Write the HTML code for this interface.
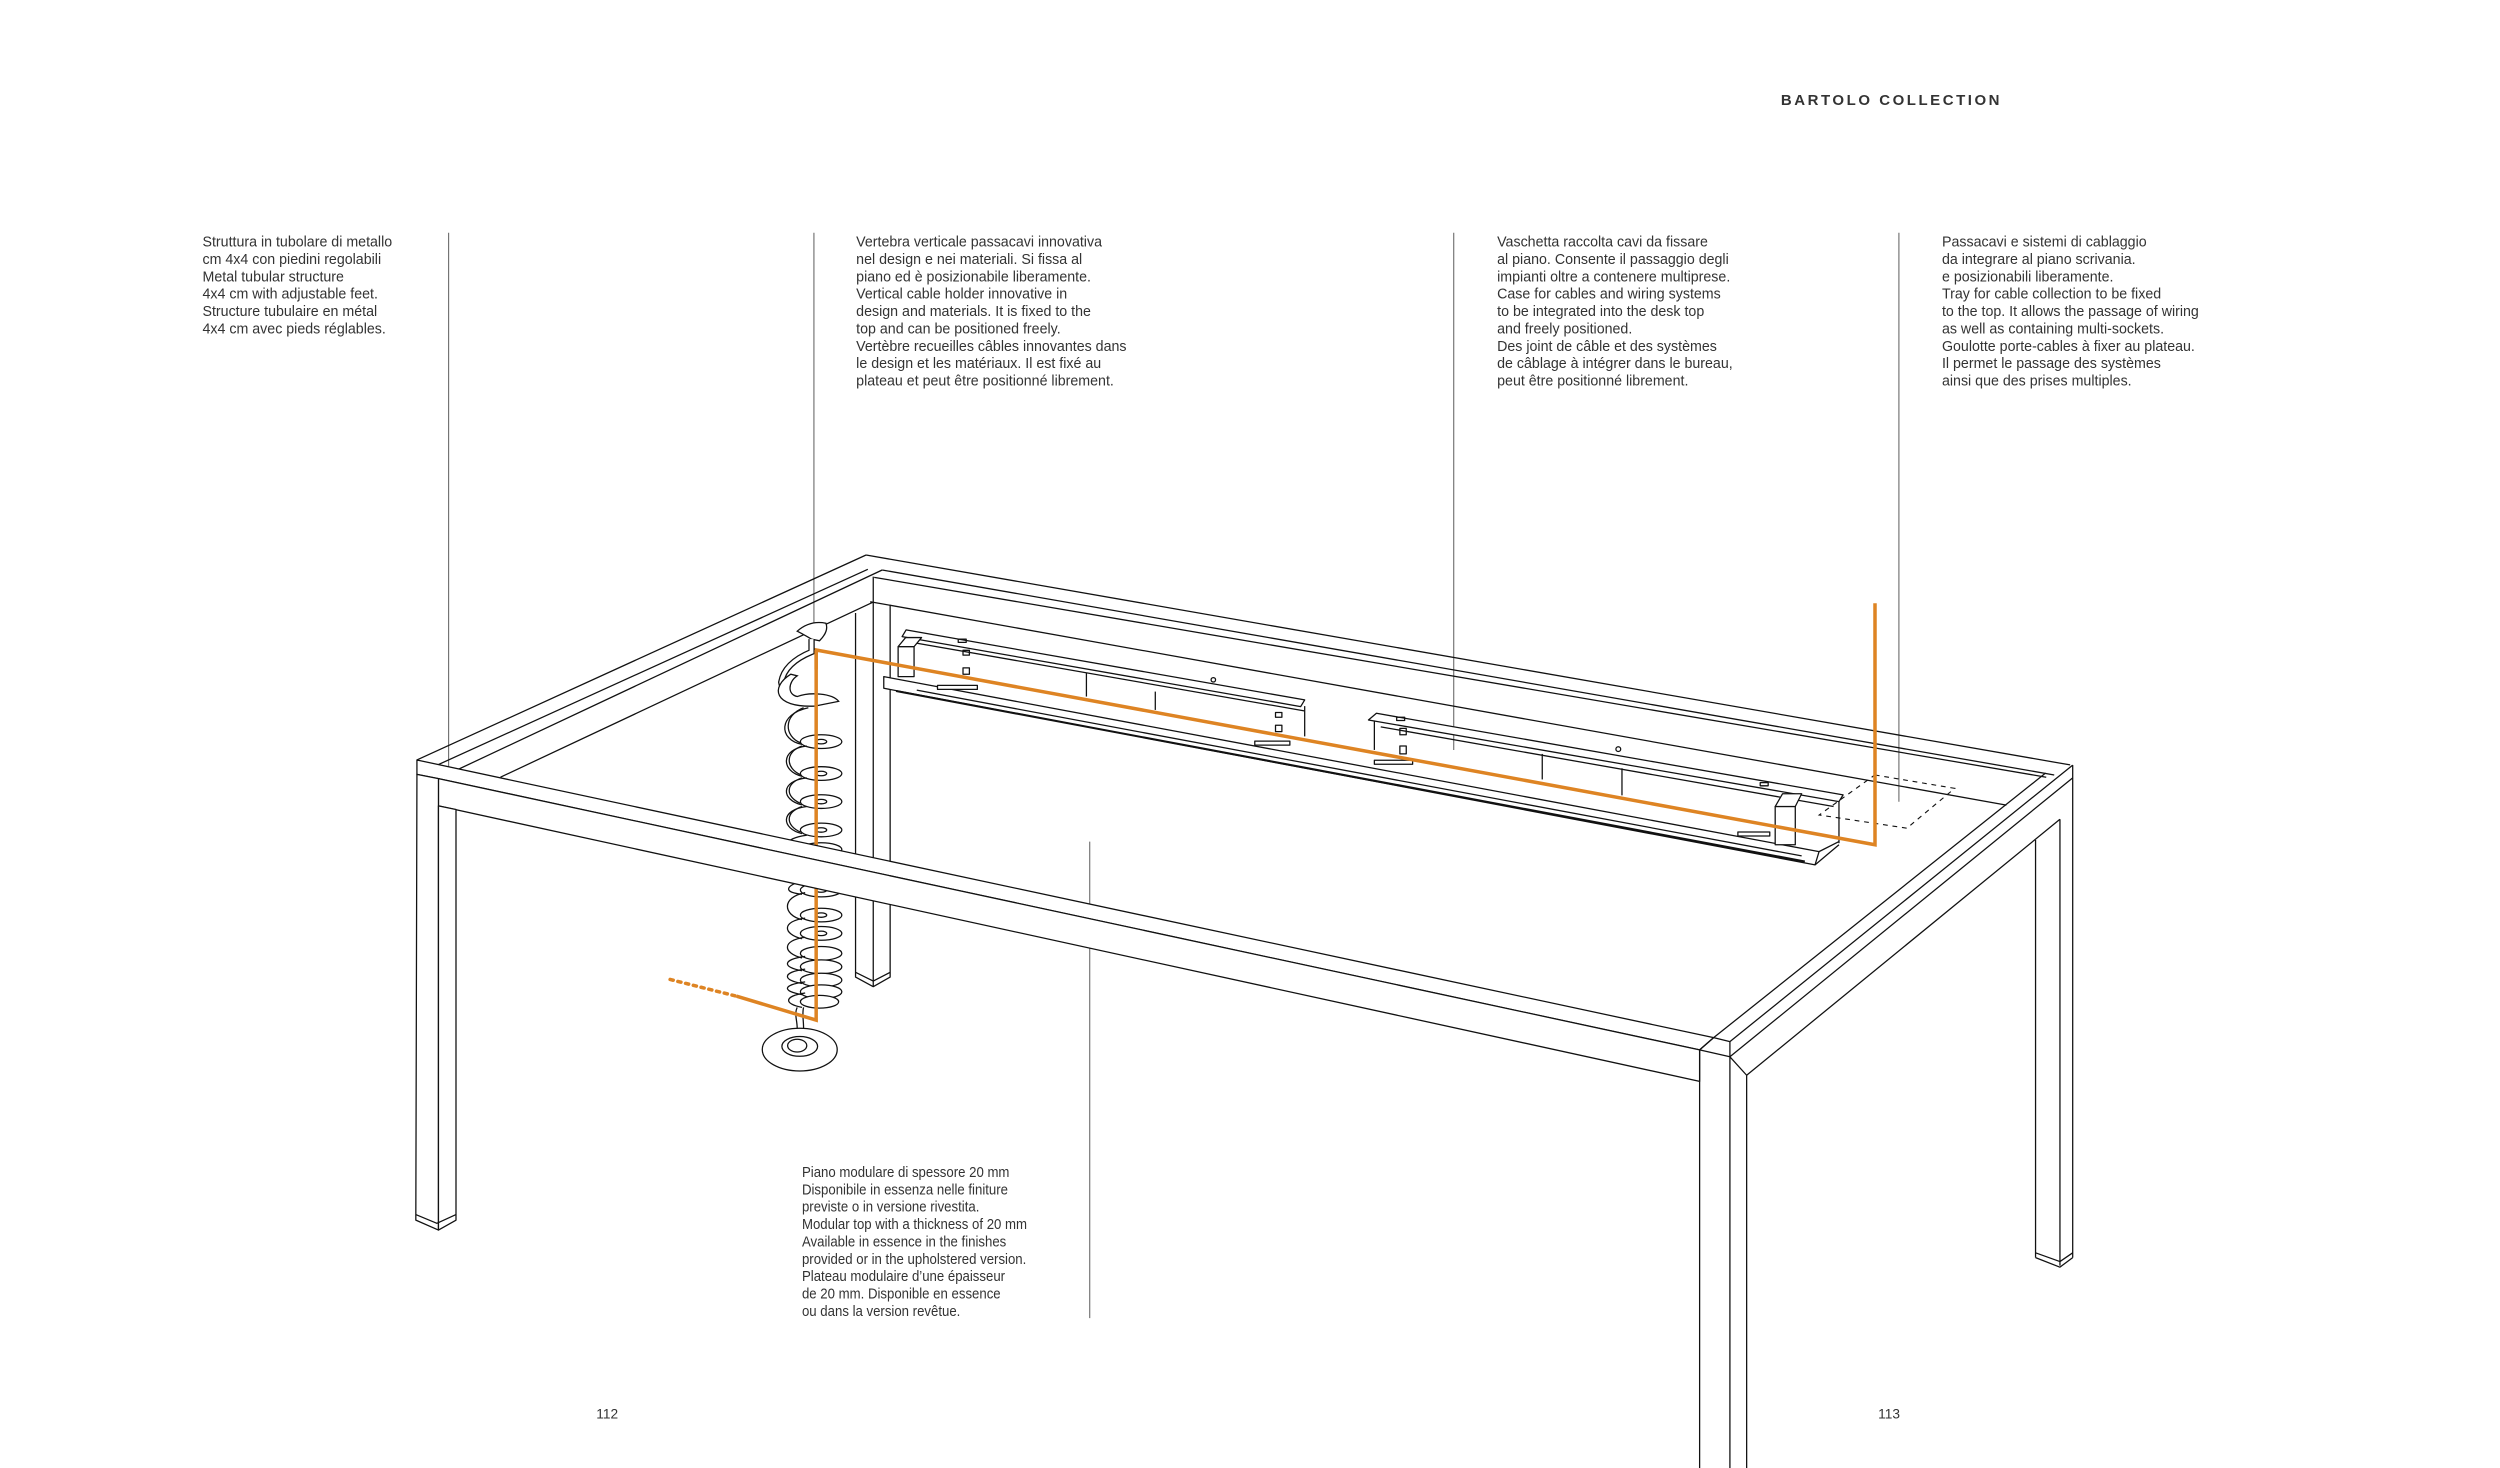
<!DOCTYPE html>
<html><head><meta charset="utf-8"><style>
html,body{margin:0;padding:0;background:#fff;}
svg{display:block;}
.t{font-family:"Liberation Sans",sans-serif;fill:#333;}
</style></head><body>
<svg width="2500" height="1468" viewBox="0 0 1568 921" preserveAspectRatio="none" xmlns="http://www.w3.org/2000/svg">
<rect width="1568" height="921" fill="#fff"/>

<text class="t" x="1117" y="66" font-size="9.4" font-weight="bold" letter-spacing="1.6" fill="#5a5a5a">BARTOLO COLLECTION</text>

<g class="t" font-size="9.2">
<text transform="translate(127,154.7) scale(0.97,1)"><tspan x="0">Struttura in tubolare di metallo</tspan><tspan x="0" dy="10.9">cm 4x4 con piedini regolabili</tspan><tspan x="0" dy="10.9">Metal tubular structure</tspan><tspan x="0" dy="10.9">4x4 cm with adjustable feet.</tspan><tspan x="0" dy="10.9">Structure tubulaire en métal</tspan><tspan x="0" dy="10.9">4x4 cm avec pieds réglables.</tspan></text>
<text transform="translate(537,154.7) scale(0.97,1)"><tspan x="0">Vertebra verticale passacavi innovativa</tspan><tspan x="0" dy="10.9">nel design e nei materiali. Si fissa al</tspan><tspan x="0" dy="10.9">piano ed è posizionabile liberamente.</tspan><tspan x="0" dy="10.9">Vertical cable holder innovative in</tspan><tspan x="0" dy="10.9">design and materials. It is fixed to the</tspan><tspan x="0" dy="10.9">top and can be positioned freely.</tspan><tspan x="0" dy="10.9">Vertèbre recueilles câbles innovantes dans</tspan><tspan x="0" dy="10.9">le design et les matériaux. Il est fixé au</tspan><tspan x="0" dy="10.9">plateau et peut être positionné librement.</tspan></text>
<text transform="translate(939,154.7) scale(0.97,1)"><tspan x="0">Vaschetta raccolta cavi da fissare</tspan><tspan x="0" dy="10.9">al piano. Consente il passaggio degli</tspan><tspan x="0" dy="10.9">impianti oltre a contenere multiprese.</tspan><tspan x="0" dy="10.9">Case for cables and wiring systems</tspan><tspan x="0" dy="10.9">to be integrated into the desk top</tspan><tspan x="0" dy="10.9">and freely positioned.</tspan><tspan x="0" dy="10.9">Des joint de câble et des systèmes</tspan><tspan x="0" dy="10.9">de câblage à intégrer dans le bureau,</tspan><tspan x="0" dy="10.9">peut être positionné librement.</tspan></text>
<text transform="translate(1218,154.7) scale(0.97,1)"><tspan x="0">Passacavi e sistemi di cablaggio</tspan><tspan x="0" dy="10.9">da integrare al piano scrivania.</tspan><tspan x="0" dy="10.9">e posizionabili liberamente.</tspan><tspan x="0" dy="10.9">Tray for cable collection to be fixed</tspan><tspan x="0" dy="10.9">to the top. It allows the passage of wiring</tspan><tspan x="0" dy="10.9">as well as containing multi-sockets.</tspan><tspan x="0" dy="10.9">Goulotte porte-cables  à fixer au plateau.</tspan><tspan x="0" dy="10.9">Il permet le passage des systèmes</tspan><tspan x="0" dy="10.9">ainsi que des prises multiples.</tspan></text>
<text transform="translate(503,738.4) scale(0.9,1)"><tspan x="0">Piano modulare di spessore 20 mm</tspan><tspan x="0" dy="10.9">Disponibile in essenza nelle finiture</tspan><tspan x="0" dy="10.9">previste o in versione rivestita.</tspan><tspan x="0" dy="10.9">Modular top with a thickness of 20 mm</tspan><tspan x="0" dy="10.9">Available in essence in the finishes</tspan><tspan x="0" dy="10.9">provided or in the upholstered version.</tspan><tspan x="0" dy="10.9">Plateau modulaire d’une épaisseur</tspan><tspan x="0" dy="10.9">de 20 mm. Disponible en essence</tspan><tspan x="0" dy="10.9">ou dans la version revêtue.</tspan></text>
<text x="374" y="890" font-size="8.6">112</text>
<text x="1178" y="890" font-size="8.6">113</text>
</g>

<g stroke="#555" stroke-width="0.6" fill="none">
<line x1="281.4" y1="146" x2="281.4" y2="521"/>
<line x1="510.5" y1="146" x2="510.5" y2="395"/>
<line x1="911.8" y1="146" x2="911.8" y2="470.5"/>
<line x1="1191" y1="146" x2="1191" y2="503"/>
<line x1="683.5" y1="528" x2="683.5" y2="827"/>
</g>

<g stroke="#111" stroke-width="0.8" fill="none" stroke-linejoin="round">
<line x1="543.2" y1="348.2" x2="1298.4" y2="479.9"/>
<line x1="553.3" y1="357.6" x2="1288.4" y2="486.2"/>
<line x1="548.3" y1="362.2" x2="1283.4" y2="487.6"/>
<line x1="545.8" y1="377.5" x2="1258.4" y2="505.1"/>
<line x1="261.5" y1="476.8" x2="543.2" y2="348.2"/>
<line x1="261.5" y1="485.8" x2="544.3" y2="357.2"/>
<line x1="275" y1="488.5" x2="553.3" y2="357.6"/>
<line x1="313.9" y1="487.6" x2="547.7" y2="377.7"/>
<polyline points="536.6,384.6 536.6,613 547.7,619 558.3,613 558.3,379.5"/>
<line x1="547.7" y1="361.8" x2="547.7" y2="619"/>
<polyline points="536.6,610 547.7,615.5 558.3,610"/>

<line x1="1300" y1="480" x2="1300" y2="789"/>
<line x1="1292" y1="514" x2="1292" y2="794"/>
<line x1="1276.7" y1="527" x2="1276.7" y2="789"/>
<polyline points="1276.7,789 1292,795 1300,789"/>
<polyline points="1276.7,786 1292,791.5 1300,786"/>

<polygon points="554.3,424.5 1140.9,534.3 1138.4,542.6 554.3,431.8" fill="#fff"/>
<line x1="562" y1="433.5" x2="1132" y2="540.5" stroke-width="1.3"/>
<line x1="575" y1="433" x2="1130" y2="537"/>
<line x1="1153.4" y1="499.8" x2="1153.4" y2="529"/>
<line x1="1140.9" y1="534.3" x2="1153.4" y2="528"/>
<line x1="1138.4" y1="542.6" x2="1153.4" y2="530"/>
<polygon points="568.3,395.2 818.3,439.1 815.8,443.3 565.8,399.4" fill="#fff"/>
<line x1="572" y1="403" x2="818" y2="446"/>
<line x1="818.3" y1="443" x2="818.3" y2="462"/>
<line x1="681.4" y1="422.3" x2="681.4" y2="437"/>
<line x1="724.6" y1="433.9" x2="724.6" y2="445.4"/>
<rect x="604" y="408" width="4" height="3"/>
<rect x="604" y="419" width="4" height="4"/>
<rect x="601" y="401" width="5" height="2"/>
<rect x="800" y="447" width="4" height="3"/>
<rect x="800" y="455" width="4" height="4"/>
<circle cx="761" cy="426.5" r="1.4"/>
<rect x="563.3" y="405.7" width="10" height="18.8" fill="#fff"/>
<polygon points="563.3,405.7 568,400 578,400 573.3,405.7" fill="#fff"/>
<rect x="588" y="430" width="25" height="2.5" fill="#fff"/>
<rect x="787" y="465" width="22" height="2.5" fill="#fff"/>
<polygon points="863.3,447.5 1156,498.7 1153.4,502.9 858.3,451.7" fill="#fff"/>
<line x1="862" y1="452" x2="862" y2="470.5"/>
<line x1="866" y1="456" x2="1150" y2="506"/>
<line x1="967.3" y1="473" x2="967.3" y2="489"/>
<line x1="1017.3" y1="482" x2="1017.3" y2="499"/>
<rect x="878" y="457" width="4" height="4"/>
<rect x="878" y="468" width="4" height="5"/>
<rect x="876" y="450" width="5" height="2"/>
<rect x="1104" y="491" width="5" height="2"/>
<circle cx="1015" cy="470" r="1.5"/>
<rect x="862" y="477" width="24" height="2.5" fill="#fff"/>
<rect x="1090" y="522" width="20" height="2.5" fill="#fff"/>
<rect x="1113.4" y="506" width="12.6" height="24" fill="#fff"/>
<polygon points="1113.4,506 1118,498 1130,498 1126,506" fill="#fff"/>
</g>

<polygon points="1175.9,486.2 1226,494.6 1196,519.6 1141,511.3" fill="none" stroke="#111" stroke-width="0.7" stroke-dasharray="3,3"/>

<g stroke="#DE8423" fill="none" stroke-width="2.2" stroke-linejoin="miter">
<polyline points="1176,378.5 1176,530 511.9,407.8 511.9,420"/>
<line x1="420.3" y1="614.5" x2="462" y2="625" stroke-dasharray="2,3" stroke-linecap="round"/>
</g>

<g stroke="#111" stroke-width="0.8" fill="#fff">
<path d="M500,396 Q508,389 518,391 Q520,396 514,402 L509,401 Q504,398 500,396 Z"/>
<path d="M509,401 L509,409 Q492,416 490,428 Q492,440 512,441" fill="none" stroke-width="4"/>
<path d="M509,401 L509,409 Q492,416 490,428 Q492,440 512,441" fill="none" stroke="#fff" stroke-width="2.4"/>
<path d="M496,423 C483,431 485,444 511,443 L526,440 C522,435 508,434 500,437 C494,436 494,428 500,424 Z"/>
<ellipse cx="515" cy="465.3" rx="13" ry="4.3"/><ellipse cx="515" cy="465.3" rx="3.5" ry="1.4"/>
<path d="M507,444 C488,448 488,464 503,467" fill="none"/><path d="M504,444 C491,449 492,462 502,466" fill="none"/>
<ellipse cx="515" cy="485.3" rx="13" ry="4.3"/><ellipse cx="515" cy="485.3" rx="3.5" ry="1.4"/>
<path d="M506,468 C489,470 490,484 503,487" fill="none"/><path d="M503,468 C492,472 493,482 502,486" fill="none"/>
<ellipse cx="515" cy="502.9" rx="13" ry="4.3"/><ellipse cx="515" cy="502.9" rx="3.5" ry="1.4"/>
<path d="M506,488 C489,490 490,502 503,505" fill="none"/><path d="M503,488 C492,492 493,500 502,504" fill="none"/>
<ellipse cx="515" cy="520.7" rx="13" ry="4.3"/><ellipse cx="515" cy="520.7" rx="3.5" ry="1.4"/>
<path d="M506,506 C489,508 490,520 503,523" fill="none"/><path d="M503,506 C492,510 493,518 502,522" fill="none"/>
<ellipse cx="515" cy="533" rx="13" ry="4.3"/>
<path d="M506,524 C490,526 491,533 503,536" fill="none"/>
<ellipse cx="515" cy="558.4" rx="13" ry="4.3"/><ellipse cx="515" cy="558.4" rx="3.5" ry="1.4"/>
<path d="M505,552 C491,556 492,560 503,561" fill="none"/>
<ellipse cx="515" cy="574.1" rx="13" ry="4.3"/><ellipse cx="515" cy="574.1" rx="3.5" ry="1.4"/>
<path d="M505,560 C490,563 491,574 503,577" fill="none"/>
<ellipse cx="515" cy="585.6" rx="13" ry="4.3"/><ellipse cx="515" cy="585.6" rx="3.5" ry="1.4"/>
<path d="M505,576 C490,578 491,586 503,589" fill="none"/>
<ellipse cx="515" cy="598.1" rx="13" ry="4.3"/>
<path d="M505,588 C490,590 491,598 503,601" fill="none"/>
<ellipse cx="515" cy="606.5" rx="13" ry="4.3"/>
<path d="M505,600 C490,602 491,607 503,609" fill="none"/>
<ellipse cx="515" cy="614.9" rx="13" ry="4.3"/>
<path d="M505,608 C490,610 491,615 503,617" fill="none"/>
<ellipse cx="515" cy="622.2" rx="13" ry="4.3"/>
<path d="M505,616 C490,618 491,622 503,624" fill="none"/>
<ellipse cx="514" cy="628.5" rx="12" ry="4"/>
<path d="M505,623 C491,625 492,630 503,632" fill="none"/>
<path d="M500,632 C498,636 500,640 500,645" fill="none"/>
<path d="M504,632 C503,636 504,640 504,645" fill="none"/>
<ellipse cx="501.6" cy="658.5" rx="23.5" ry="13.4"/>
<ellipse cx="501.6" cy="656.5" rx="11.2" ry="6.2"/>
<ellipse cx="500" cy="656" rx="6" ry="4"/>
</g>
<polyline points="511.9,407.8 511.9,640 462,625" stroke="#DE8423" stroke-width="2.2" fill="none"/>

<g stroke="#111" stroke-width="0.8" fill="#fff" stroke-linejoin="round">
<polygon points="261.5,476.8 1074.8,651 1066,658.7 275,488.5 261.5,485.8"/>
<polygon points="275,488.5 1066,658.7 1066,678.4 275,505.6"/>
<polygon points="261.5,485.8 275,488.5 275,771.7 260.8,765.5"/>
<polygon points="275,505.6 286,507.9 286,765.5 275,771.7"/>
<polyline points="260.8,762 274,767.5 286,762" fill="none"/>
<line x1="1074.8" y1="651" x2="1283" y2="485"/>
<line x1="1085" y1="653.5" x2="1300" y2="480"/>
<line x1="1085" y1="663" x2="1300" y2="488"/>
<line x1="1095.5" y1="674.6" x2="1292" y2="514"/>
<line x1="1066" y1="658.7" x2="1074.8" y2="651"/>
<line x1="1074.8" y1="651" x2="1085" y2="653.5"/>
<line x1="1066" y1="658.7" x2="1085" y2="663"/>
<line x1="1085" y1="663" x2="1095.5" y2="674.6"/>
<line x1="1066" y1="658.7" x2="1066" y2="930"/>
<line x1="1085" y1="653.5" x2="1085" y2="930"/>
<line x1="1095.5" y1="674.6" x2="1095.5" y2="930"/>
</g>
</svg>
</body></html>
